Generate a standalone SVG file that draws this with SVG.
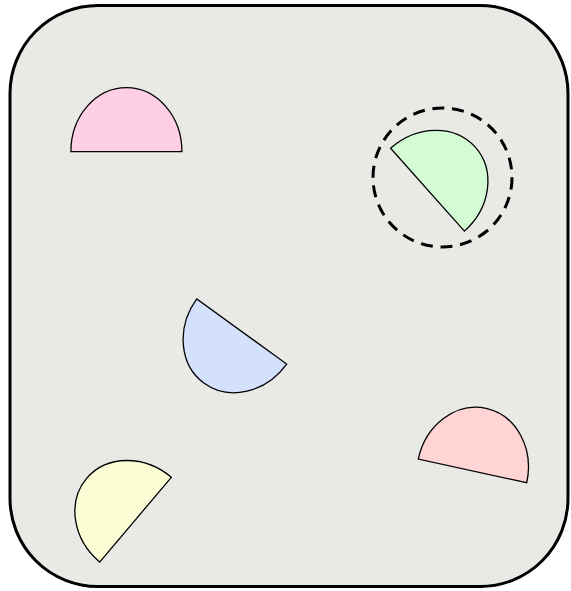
<svg xmlns="http://www.w3.org/2000/svg" width="571" height="591" viewBox="0 0 571 591">
  <style>
    .frame { fill: #e9eae6; stroke: #000; stroke-width: 3; }
    .half { stroke: #000; stroke-width: 1.3; stroke-linejoin: miter; }
    .ring { fill: none; stroke: #000; stroke-width: 3; stroke-dasharray: 12 7.8; }
  </style>
  <defs>
    <path id="semi" d="M -55.5 0 A 55.5 64 0 0 1 55.5 0 Z"/>
  </defs>
  <rect class="frame" x="10" y="5.5" width="558" height="581" rx="88" ry="88"/>
  <g id="pink">
    <use href="#semi" class="half" fill="#ffcfe6" transform="translate(126.4 151.7)"/>
  </g>
  <g id="green">
    <use href="#semi" class="half" fill="#d4fcd4" transform="translate(427.5 189.7) rotate(48.3)"/>
    <circle class="ring" cx="442.5" cy="177.5" r="69.5"/>
  </g>
  <g id="blue">
    <use href="#semi" class="half" fill="#d3e1fd" transform="translate(241.7 331.5) rotate(-144.1)"/>
  </g>
  <g id="red">
    <use href="#semi" class="half" fill="#ffd4d4" transform="translate(472.5 470.9) rotate(12.3)"/>
  </g>
  <g id="yellow">
    <use href="#semi" class="half" fill="#fbfdd5" transform="translate(135.5 519.7) rotate(-49.8)"/>
  </g>
  <g id="connectors"/>
</svg>
